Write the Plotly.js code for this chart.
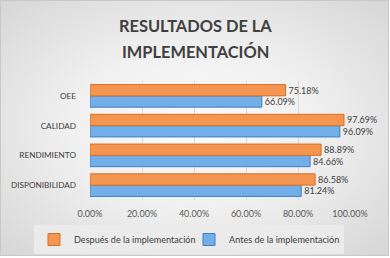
<!DOCTYPE html>
<html>
<head>
<meta charset="utf-8">
<script src="https://cdn.plot.ly/plotly-3.0.1.min.js"></script>
<style>
html,body{margin:0;padding:0;background:#ffffff;width:390px;height:258px;overflow:hidden;}
#bg{position:absolute;left:0;top:0;width:388px;height:255px;
background:radial-gradient(ellipse at 50% 50%, #fbfbfb 0%, #f0f0f0 45%, #d6d6d6 100%);}
#frame{position:absolute;left:0;top:0;width:387px;height:254px;border:1px solid #c8c8c8;pointer-events:none;}
#chart{position:absolute;left:0;top:0;width:390px;height:272px;}
</style>
</head>
<body>
<div id="bg"></div>
<div id="chart"></div>
<div id="frame"></div>
<script>
const categories = ["DISPONIBILIDAD", "RENDIMIENTO", "CALIDAD", "OEE"];
const antes = [0.8124, 0.8466, 0.9609, 0.6609];
const despues = [0.8658, 0.8889, 0.9769, 0.7518];
const seriesNames = ["Antes de la implementación", "Después de la implementación"];
const titleLines = ["RESULTADOS DE LA", "IMPLEMENTACIÓN"];
const tickVals = [0, 0.2, 0.4, 0.6, 0.8, 1.0];

const FONT = "Lato, 'Open Sans', sans-serif";
const fmt = v => (v*100).toFixed(2) + "%";

const traces = [
  {
    type: "bar", orientation: "h", name: seriesNames[0],
    y: categories, x: antes,
    text: antes.map(fmt), textposition: "outside", cliponaxis: false,
    textfont: {family: FONT, size: 9, color: "#404040"},
    marker: {color: "#72aee8", line: {color: "#3f7fc0", width: 1}}
  },
  {
    type: "bar", orientation: "h", name: seriesNames[1],
    y: categories, x: despues,
    text: despues.map(fmt), textposition: "outside", cliponaxis: false,
    textfont: {family: FONT, size: 9, color: "#404040"},
    marker: {color: "#f59552", line: {color: "#d9701f", width: 1}}
  }
];

// figure is a bit taller than the window so the legend never pushes the plot area
const PL = 90, PR = 350, PT = 81, PB = 200, W = 390, H = 272;
const pw = PR - PL, ph = PB - PT;

const layout = {
  width: W, height: H,
  paper_bgcolor: "rgba(0,0,0,0)", plot_bgcolor: "rgba(0,0,0,0)",
  margin: {l: PL, r: W - PR, t: PT, b: H - PB},
  font: {family: FONT, size: 10, color: "#404040"},
  barmode: "group", bargap: 0.24, bargroupgap: 0,
  showlegend: true,
  legend: {
    orientation: "h", traceorder: "reversed",
    x: (34 - PL) / pw, xanchor: "left", xref: "paper",
    y: -(225 - PB) / ph, yanchor: "top", yref: "paper",
    bgcolor: "#ebebeb", font: {family: FONT, size: 9.1, color: "#404040"},
    itemwidth: 30, tracegroupgap: 0,
    entrywidth: 110, entrywidthmode: "pixels"
  },
  xaxis: {
    range: [0, 1.0], tickvals: tickVals, tickformat: ".2%",
    showgrid: true, gridcolor: "#d9d9d9", gridwidth: 1,
    zeroline: false, showline: false, ticks: "", ticklabelstandoff: 7,
    tickfont: {family: FONT, size: 9, color: "#595959"}
  },
  yaxis: {
    automargin: false, showgrid: false, zeroline: false, showline: false,
    ticks: "", ticklabelstandoff: 13,
    tickfont: {family: FONT, size: 8.2, color: "#404040"}
  },
  annotations: titleLines.map((t, i) => ({
    text: "<b>" + t + "</b>", xref: "paper", yref: "paper",
    x: (195 - PL) / pw, y: 1 + (PT - (26 + 25 * i)) / ph,
    xanchor: "center", yanchor: "middle", showarrow: false,
    font: {family: FONT, size: 16.4, color: "#404040"}
  })),
  shapes: [
    {type: "rect", xref: "x", yref: "paper", x0: -0.018, x1: 0, y0: -0.02, y1: 1.0,
     fillcolor: "#b0b0b0", line: {width: 0}, layer: "below"},
    {type: "line", xref: "x", yref: "paper", x0: -0.018, x1: -0.018, y0: -0.02, y1: 1.02,
     line: {color: "#202020", width: 2}}
  ]
};

Plotly.newPlot("chart", traces, layout, {displayModeBar: false, staticPlot: true});
</script>
</body>
</html>
